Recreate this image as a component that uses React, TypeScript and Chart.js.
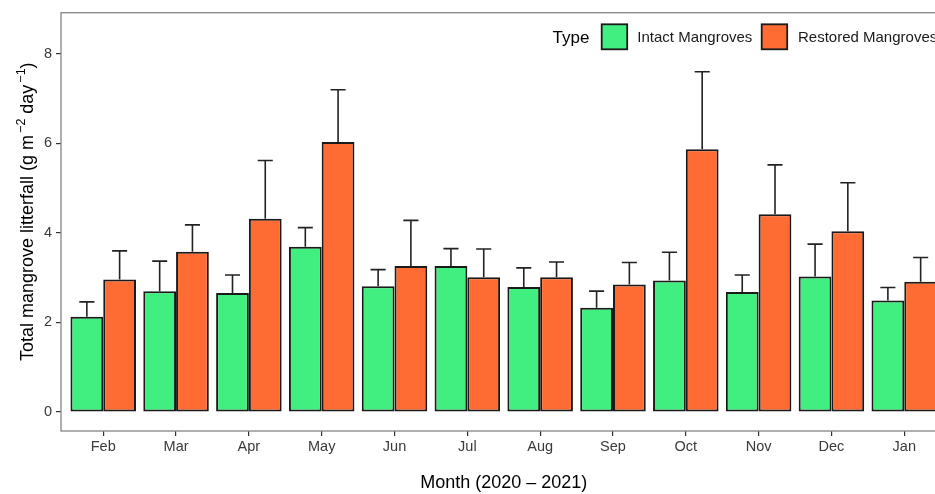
import React, { useEffect, useRef } from 'react';
import { Chart, registerables } from 'chart.js';

Chart.register(...registerables);

const MONTHS = ['Feb', 'Mar', 'Apr', 'May', 'Jun', 'Jul', 'Aug', 'Sep', 'Oct', 'Nov', 'Dec', 'Jan'];
const INTACT_MEAN = [2.13, 2.70, 2.66, 3.69, 2.81, 3.26, 2.79, 2.33, 2.94, 2.68, 3.03, 2.49];
const INTACT_SE = [0.33, 0.67, 0.40, 0.43, 0.37, 0.39, 0.43, 0.37, 0.63, 0.38, 0.72, 0.29];
const RESTORED_MEAN = [2.96, 3.58, 4.32, 6.03, 3.26, 3.01, 3.01, 2.85, 5.87, 4.42, 4.04, 2.91];
const RESTORED_SE = [0.64, 0.60, 1.30, 1.17, 1.02, 0.63, 0.34, 0.49, 1.73, 1.10, 1.08, 0.54];
const Y_TICKS = [0, 2, 4, 6, 8];
const SERIES_LABELS = ['Intact Mangroves', 'Restored Mangroves'];
const LEGEND_TITLE = 'Type';
const X_TITLE = 'Month (2020 – 2021)';
const Y_TITLE_PARTS: [string, boolean][] = [
  ['Total mangrove litterfall (g m', false],
  ['−2', true],
  [' day', false],
  ['−1', true],
  [')', false],
];

const GREEN = '#40EF7F';
const ORANGE = '#FE6B33';
const FONT = '"Liberation Sans", Arial, Helvetica, sans-serif';

const panelPlugin = {
  id: 'panelBorder',
  afterDraw(chart: any) {
    const { ctx, chartArea } = chart;
    ctx.save();
    ctx.strokeStyle = '#858585';
    ctx.lineWidth = 1.3;
    ctx.strokeRect(chartArea.left, chartArea.top, chartArea.right - chartArea.left, chartArea.bottom - chartArea.top);
    ctx.restore();
  },
};

const errorPlugin = {
  id: 'errorBars',
  afterDatasetsDraw(chart: any) {
    const { ctx } = chart;
    const yScale = chart.scales.y;
    ctx.save();
    ctx.strokeStyle = '#222';
    ctx.lineWidth = 1.6;
    chart.data.datasets.forEach((ds: any, di: number) => {
      const meta = chart.getDatasetMeta(di);
      meta.data.forEach((el: any, i: number) => {
        const mean = ds.data[i].y;
        const top = yScale.getPixelForValue(mean + ds.errors[i]);
        const half = el.width * 0.23;
        ctx.beginPath();
        ctx.moveTo(el.x, el.y);
        ctx.lineTo(el.x, top);
        ctx.moveTo(el.x - half, top);
        ctx.lineTo(el.x + half, top);
        ctx.stroke();
      });
    });
    ctx.restore();
  },
};

const legendPlugin = {
  id: 'customLegend',
  afterDraw(chart: any) {
    const { ctx } = chart;
    const ds = chart.data.datasets;
    ctx.save();
    ctx.textBaseline = 'middle';
    ctx.textAlign = 'left';
    ctx.fillStyle = '#000';
    ctx.font = `17px ${FONT}`;
    ctx.fillText(LEGEND_TITLE, 552.5, 38);
    const boxes = [601.7, 761.7];
    const texts = [637.3, 798];
    ds.forEach((d: any, i: number) => {
      ctx.fillStyle = d.backgroundColor;
      ctx.fillRect(boxes[i], 24.3, 25.5, 25);
      ctx.strokeStyle = '#1a1a1a';
      ctx.lineWidth = 1.8;
      ctx.strokeRect(boxes[i], 24.3, 25.5, 25);
      ctx.fillStyle = '#1a1a1a';
      ctx.font = `15px ${FONT}`;
      ctx.fillText(d.label, texts[i], 38);
    });
    ctx.restore();
  },
};

const yTitlePlugin = {
  id: 'yTitle',
  afterDraw(chart: any) {
    const { ctx } = chart;
    ctx.save();
    ctx.translate(33, 361);
    ctx.rotate(-Math.PI / 2);
    ctx.fillStyle = '#000';
    ctx.textBaseline = 'alphabetic';
    ctx.textAlign = 'left';
    let x = 0;
    Y_TITLE_PARTS.forEach(([t, sup]) => {
      ctx.font = `${sup ? 12.5 : 18}px ${FONT}`;
      ctx.fillText(t, x + (sup ? 2 : 0), sup ? -8 : 0);
      x += ctx.measureText(t).width + (sup ? 2 : 0);
    });
    ctx.restore();
  },
};

export default function App() {
  const ref = useRef<HTMLCanvasElement>(null);
  useEffect(() => {
    const canvas = ref.current;
    if (!canvas) return;
    Chart.defaults.font.family = FONT;
    const chart = new Chart(canvas, {
      type: 'bar',
      data: {
        datasets: [
          {
            label: SERIES_LABELS[0],
            data: MONTHS.map((_, i) => ({ x: i, y: INTACT_MEAN[i] })),
            errors: INTACT_SE,
            backgroundColor: GREEN,
            borderColor: '#1a1a1a',
            borderWidth: 2,
            borderSkipped: false,
          } as any,
          {
            label: SERIES_LABELS[1],
            data: MONTHS.map((_, i) => ({ x: i, y: RESTORED_MEAN[i] })),
            errors: RESTORED_SE,
            backgroundColor: ORANGE,
            borderColor: '#1a1a1a',
            borderWidth: 2,
            borderSkipped: false,
          } as any,
        ],
      },
      options: {
        responsive: false,
        maintainAspectRatio: false,
        animation: false,
        layout: { padding: { left: 0, right: 13.5, top: 12, bottom: 0 } },
        datasets: { bar: { categoryPercentage: 0.9, barPercentage: 1 } },
        plugins: {
          legend: { display: false },
          tooltip: { enabled: false },
          title: { display: false },
        },
        scales: {
          x: {
            type: 'linear',
            min: -0.58,
            max: 11.58,
            offset: false,
            afterBuildTicks: (s: any) => {
              s.ticks = MONTHS.map((_, i) => ({ value: i }));
            },
            afterFit: (s: any) => {
              s.height = 63;
            },
            grid: { display: true, offset: false, drawOnChartArea: false, drawTicks: true, tickLength: 5, color: '#333', lineWidth: 1.2 },
            border: { display: false },
            ticks: {
              autoSkip: false,
              maxRotation: 0,
              callback: (v: any) => MONTHS[v],
              font: { size: 14.5, family: FONT },
              color: '#3a3a3a',
              padding: 2,
            },
            title: {
              display: true,
              text: X_TITLE,
              font: { size: 18, family: FONT },
              color: '#000',
              padding: { top: 0, bottom: 0 },
            },
          },
          y: {
            type: 'linear',
            min: -0.424,
            max: 8.92,
            afterBuildTicks: (s: any) => {
              s.ticks = Y_TICKS.map((v) => ({ value: v }));
            },
            afterFit: (s: any) => {
              s.width = 61;
            },
            grid: { display: true, drawOnChartArea: false, drawTicks: true, tickLength: 5, color: '#333', lineWidth: 1.2 },
            border: { display: false },
            ticks: {
              font: { size: 14.5, family: FONT },
              color: '#3a3a3a',
              padding: 4,
            },
          },
        },
      } as any,
      plugins: [panelPlugin, errorPlugin, legendPlugin, yTitlePlugin],
    });
    return () => chart.destroy();
  }, []);

  return (
    <div style={{ position: 'fixed', left: 0, top: 0, width: 935, height: 494, overflow: 'hidden', background: '#fff' }}>
      <canvas ref={ref} width={960} height={494} style={{ display: 'block', width: 960, height: 494 }} />
    </div>
  );
}
